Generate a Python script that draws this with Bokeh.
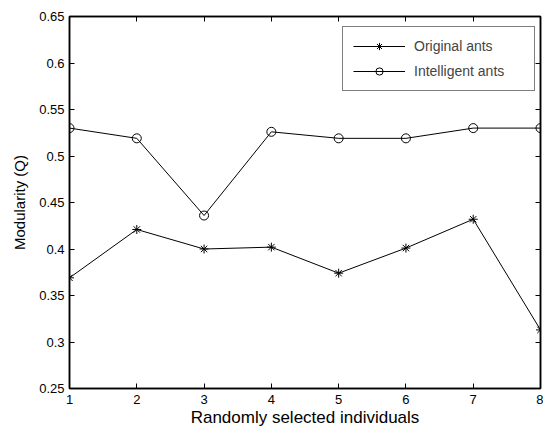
from bokeh.plotting import figure
from bokeh.models import LinearAxis, Range1d, FixedTicker
from bokeh.embed import file_html
from bokeh.resources import INLINE

individuals = [1, 2, 3, 4, 5, 6, 7, 8]
original_ants = [0.369, 0.421, 0.400, 0.402, 0.374, 0.401, 0.432, 0.313]
intelligent_ants = [0.530, 0.519, 0.436, 0.526, 0.519, 0.519, 0.530, 0.530]
y_ticks = [0.25, 0.30, 0.35, 0.40, 0.45, 0.50, 0.55, 0.60, 0.65]
y_tick_labels = ["0.25", "0.3", "0.35", "0.4", "0.45", "0.5", "0.55", "0.6", "0.65"]
x_ticks = [1, 2, 3, 4, 5, 6, 7, 8]

FONT = "Liberation Sans"

p = figure(width=543, height=430, x_range=Range1d(1, 8), y_range=Range1d(0.25, 0.65),
           output_backend="svg", toolbar_location=None,
           min_border_left=69, min_border_right=3, min_border_top=16, min_border_bottom=42,
           background_fill_color="white", border_fill_color="white")
p.grid.visible = False
p.outline_line_color = "black"
p.outline_line_width = 1.5

def style_axis(ax, show_labels, ticks):
    ax.axis_line_color = "black"
    ax.axis_line_width = 1.5
    ax.major_tick_in = 5
    ax.major_tick_out = 0
    ax.minor_tick_line_color = None
    ax.major_tick_line_color = "black"
    ax.major_label_text_font = FONT
    ax.major_label_text_color = "black"
    ax.major_label_text_font_size = "13px"
    if show_labels:
        ax.major_label_standoff = 5
    else:
        ax.major_label_standoff = 0
        ax.major_label_overrides = {t: "" for t in ticks}

p.xaxis.ticker = FixedTicker(ticks=x_ticks)
p.yaxis.ticker = FixedTicker(ticks=y_ticks)
style_axis(p.xaxis[0], True, x_ticks)
style_axis(p.yaxis[0], True, y_ticks)
p.yaxis.major_label_overrides = {t: l for t, l in zip(y_ticks, y_tick_labels)}
p.xaxis.major_label_standoff = 6
p.xaxis.axis_label = "Randomly selected individuals"
p.yaxis.axis_label = "Modularity (Q)"
for ax, size in ((p.xaxis[0], "17px"), (p.yaxis[0], "15px")):
    ax.axis_label_text_font = FONT
    ax.axis_label_text_font_size = size
    ax.axis_label_text_font_style = "normal"
    ax.axis_label_text_color = "black"
p.xaxis.axis_label_standoff = 1
p.yaxis.axis_label_standoff = 8

top_ax = LinearAxis(ticker=FixedTicker(ticks=x_ticks))
right_ax = LinearAxis(ticker=FixedTicker(ticks=y_ticks))
style_axis(top_ax, False, x_ticks)
style_axis(right_ax, False, y_ticks)
p.add_layout(top_ax, "above")
p.add_layout(right_ax, "right")

p.line(individuals, original_ants, line_color="black", line_width=1, legend_label="Original ants")
p.scatter(individuals, original_ants, marker="asterisk", size=9, line_color="black",
          line_width=1, legend_label="Original ants")
p.line(individuals, intelligent_ants, line_color="black", line_width=1, legend_label="Intelligent ants")
p.scatter(individuals, intelligent_ants, marker="circle", size=9, line_color="black",
          fill_color=None, line_width=1, legend_label="Intelligent ants")

lg = p.legend[0]
lg.location = (273, 297)
lg.border_line_color = "black"
lg.border_line_width = 1
lg.background_fill_color = "white"
lg.background_fill_alpha = 1
lg.label_text_font = FONT
lg.label_text_font_size = "14px"
lg.glyph_width = 52
lg.glyph_height = 18
lg.label_standoff = 9
lg.label_width = 110
lg.label_height = 18
lg.padding = 10
lg.spacing = 7
lg.margin = 0

open("out.html", "w").write(file_html(p, INLINE))
